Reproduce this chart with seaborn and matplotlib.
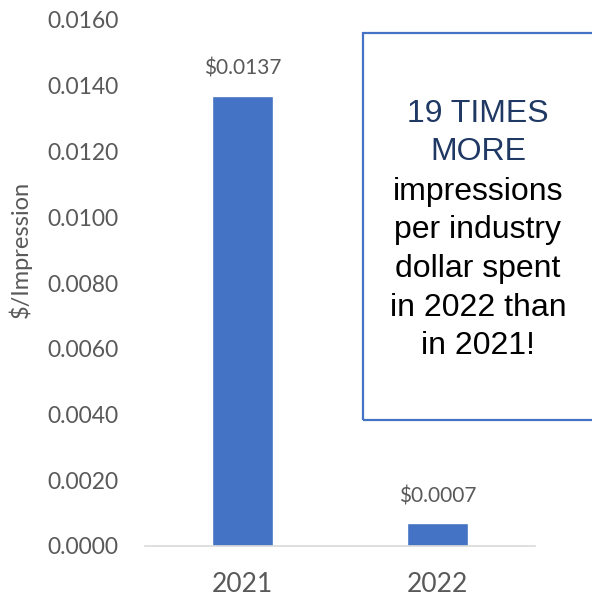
import matplotlib
matplotlib.use("Agg")
import matplotlib.pyplot as plt
from matplotlib.patches import Rectangle
from matplotlib.ticker import MultipleLocator, FormatStrFormatter
import pandas as pd
import seaborn as sns

# Cost per impression by year
years = ["2021", "2022"]
cost_per_impression = [0.0137, 0.0007]
value_labels = ["$0.0137", "$0.0007"]

headline = "19 TIMES\nMORE"
body = "impressions\nper industry\ndollar spent\nin 2022 than\nin 2021!"

df = pd.DataFrame({"year": years, "cost": cost_per_impression})

sns.set_theme(style="white")
plt.rcParams["font.family"] = ["Lato", "DejaVu Sans"]

W, H = 592, 596
fig = plt.figure(figsize=(W / 100, H / 100), dpi=100)
ax = fig.add_axes([145 / W, 1 - 546 / H, 390 / W, 526 / H])

bar_color = "#4472C4"
sns.barplot(data=df, x="year", y="cost", color=bar_color, saturation=1,
            width=0.31, ax=ax)

ax.set_xlim(-0.5, 1.5)
ax.set_ylim(0, 0.016)
ax.yaxis.set_major_locator(MultipleLocator(0.002))
ax.yaxis.set_major_formatter(FormatStrFormatter("%.4f"))

for s in ["top", "right", "left"]:
    ax.spines[s].set_visible(False)
ax.spines["bottom"].set_color("#D9D9D9")
ax.spines["bottom"].set_linewidth(1.2)

tick_color = "#595959"
ax.tick_params(axis="y", length=0, pad=19, labelsize=16.5, labelcolor=tick_color)
ax.tick_params(axis="x", length=0, pad=19, labelsize=19, labelcolor=tick_color)
ax.set_xlabel("")
ax.set_ylabel("$/Impression", fontsize=17, color=tick_color)
ax.yaxis.set_label_coords(-0.29, 0.563)

for i, (v, lab) in enumerate(zip(cost_per_impression, value_labels)):
    ax.annotate(lab, xy=(i, v), xytext=(0, 12), textcoords="offset points",
                ha="center", va="bottom", fontsize=15, color=tick_color)

# Callout box on the right
box = Rectangle((363 / W, 1 - 420 / H), (W - 363 + 10) / W, (420 - 33) / H,
                transform=fig.transFigure, fill=False, edgecolor=bar_color,
                linewidth=1.6, clip_on=False)
fig.patches.append(box)

cx = 478 / W
fig.text(cx, 1 - 133 / H, headline, ha="center", va="center",
         fontsize=23, color="#1F3864", family=["Liberation Sans"],
         linespacing=1.36)
fig.text(cx, 1 - 269 / H, body, ha="center", va="center",
         fontsize=23, color="black", family=["Liberation Sans"],
         linespacing=1.38)

fig.savefig("out.png", dpi=100)
